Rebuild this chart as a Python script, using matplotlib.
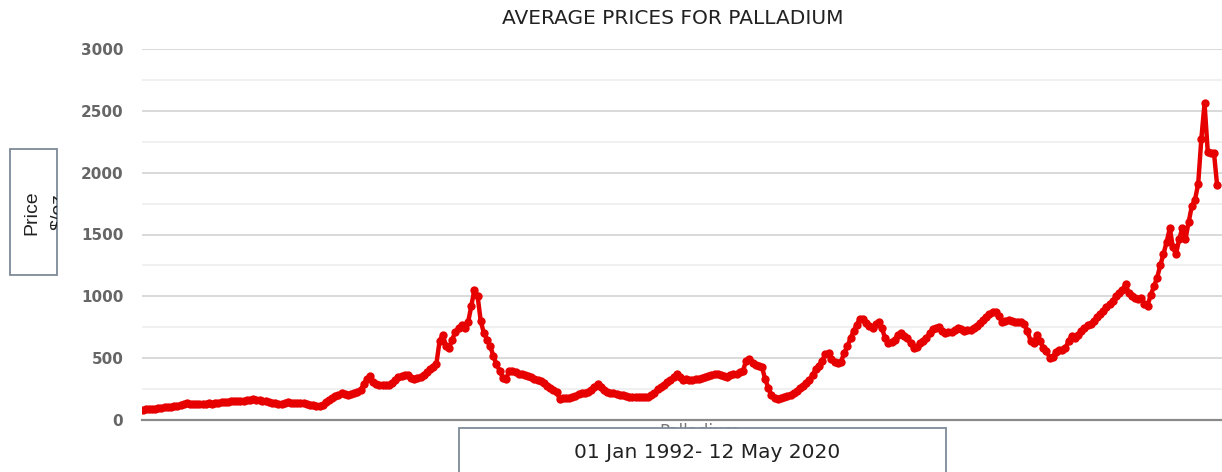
import numpy as np
import pandas as pd
import matplotlib
matplotlib.use("Agg")
import matplotlib.pyplot as plt
import matplotlib.dates as mdates
from matplotlib.patches import Rectangle

# monthly average palladium price, Jan 1992 - May 2020
p_1992_1996 = [84, 86, 87, 89, 92, 95, 98, 102, 105, 108, 112, 116,
               120, 128, 140, 132, 128, 130, 126, 128, 132, 134, 133, 136,
               138, 142, 145, 148, 150, 152, 153, 154, 156, 158, 162, 166,
               164, 160, 155, 150, 145, 140, 136, 132, 130, 138, 145, 140,
               136, 138, 135, 134, 130, 125, 118, 112, 115, 125, 145, 160]
p_1997_2001 = [180, 195, 205, 215, 212, 205, 208, 215, 225, 240, 290, 330,
               355, 310, 290, 285, 283, 280, 285, 300, 320, 345, 355, 362,
               360, 340, 330, 338, 345, 360, 385, 410, 430, 455, 640, 690,
               600, 585, 650, 715, 740, 770, 740, 790, 920, 1055, 1000, 800,
               700, 650, 600, 520, 450, 400, 340, 330, 395, 400, 385, 375]
p_2002_2006 = [372, 365, 355, 345, 335, 325, 315, 300, 275, 255, 240, 225,
               172, 175, 178, 180, 190, 195, 210, 215, 215, 230, 245, 270,
               295, 265, 240, 230, 222, 215, 212, 205, 202, 198, 190, 184,
               186, 190, 188, 187, 188, 200, 220, 250, 265, 280, 305, 325,
               345, 372, 345, 325, 328, 325, 322, 330, 335, 340, 348, 355]
p_2007_2011 = [362, 368, 372, 365, 352, 350, 360, 368, 372, 385, 400, 480,
               490, 460, 445, 440, 430, 330, 260, 200, 180, 170, 178, 190,
               198, 205, 220, 235, 255, 275, 300, 325, 365, 410, 440, 480,
               530, 540, 490, 470, 462, 470, 540, 595, 660, 720, 770, 820,
               815, 785, 760, 745, 780, 795, 740, 660, 620, 630, 650, 690]
p_2012_2016 = [700, 680, 660, 620, 585, 590, 620, 640, 665, 700, 735, 745,
               755, 720, 705, 712, 715, 725, 740, 735, 722, 725, 728, 740,
               760, 785, 805, 835, 855, 876, 870, 840, 790, 800, 808, 800,
               795, 795, 790, 780, 720, 640, 625, 690, 640, 585, 560, 505,
               510, 550, 565, 570, 580, 640, 680, 660, 690, 720, 745, 770]
p_2017_2020 = [780, 800, 830, 860, 880, 910, 940, 960, 1000, 1030, 1050, 1100,
               1030, 1000, 985, 975, 990, 935, 925, 1010, 1080, 1150, 1250, 1340,
               1440, 1550, 1400, 1340, 1460, 1550, 1460, 1600, 1730, 1780, 1910, 2270,
               2560, 2170, 2160, 2160, 1900]

prices = p_1992_1996 + p_1997_2001 + p_2002_2006 + p_2007_2011 + p_2012_2016 + p_2017_2020
dates = pd.date_range("1992-01-01", periods=len(prices), freq="MS")

y_ticks = [0, 500, 1000, 1500, 2000, 2500, 3000]

W, H = 1222, 472
fig = plt.figure(figsize=(W / 100, H / 100), dpi=100)
ax = fig.add_axes([142 / W, (H - 420) / H, (W - 142) / W, 371 / H])

ax.plot(dates, prices, color="#e60000", lw=3.2, marker="o", ms=6,
        markeredgewidth=0, zorder=3)

x0 = mdates.date2num(dates[0])
ax.set_xlim(x0 - 5, x0 + 341.5 * 30.44)
ax.set_ylim(0, 3000)
ax.set_xticks([])
ax.set_yticks(y_ticks)
ax.set_yticks(np.arange(250, 3000, 500), minor=True)
ax.tick_params(axis="y", which="both", length=0, pad=13.5)
for lab in ax.get_yticklabels():
    lab.set_fontsize(11)
    lab.set_color("#666666")
    lab.set_fontweight("bold")
    lab.set_fontfamily("DejaVu Sans")
ax.grid(axis="y", which="major", color="#d0d0d0", lw=1.1)
ax.grid(axis="y", which="minor", color="#ececec", lw=1.1)
for s in ["top", "right", "left"]:
    ax.spines[s].set_visible(False)
ax.spines["bottom"].set_color("#8a8a8a")
ax.spines["bottom"].set_linewidth(1.6)

fig.text(673 / W, 1 - 19 / H, "AVERAGE PRICES FOR PALLADIUM", ha="center",
         va="center", fontsize=14.5, color="#222222", family="DejaVu Sans")

# y label box, second line clipped by its border
box_y = Rectangle((10 / W, 1 - 275 / H), 47 / W, 126 / H, transform=fig.transFigure,
                  facecolor="white", edgecolor="#7d8b99", lw=1.3)
fig.add_artist(box_y)
fig.text(32 / W, 1 - 213 / H, "Price", rotation=90, ha="center", va="center",
         fontsize=14, color="#222222", family="Liberation Sans")
t2 = fig.text(59 / W, 1 - 211 / H, "$/oz", rotation=90, ha="center", va="center",
              fontsize=14, color="#222222", family="Liberation Sans")
t2.set_clip_path(box_y)

# x label, mostly hidden behind the date box
fig.text(700 / W, 1 - 432 / H, "Palladium", ha="center", va="center",
         fontsize=12, color="#777777", family="DejaVu Sans")
box_x = Rectangle((459 / W, -0.05), 487 / W, (H - 428) / H + 0.05,
                  transform=fig.transFigure, facecolor="white",
                  edgecolor="#7d8b99", lw=1.3, zorder=5)
fig.add_artist(box_x)
fig.text(707 / W, 1 - 453 / H, "01 Jan 1992- 12 May 2020", ha="center",
         va="center", fontsize=14.5, color="#222222", family="DejaVu Sans", zorder=6)

fig.savefig("out.png", dpi=100)
